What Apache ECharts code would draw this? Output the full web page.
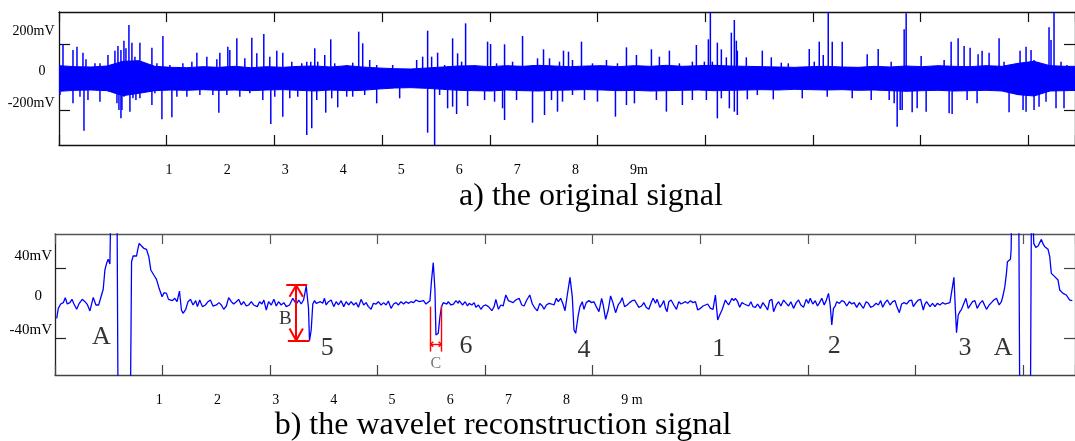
<!DOCTYPE html>
<html>
<head>
<meta charset="utf-8">
<script src="https://cdn.jsdelivr.net/npm/echarts@6/dist/echarts.min.js"></script>
<style>
html,body{margin:0;padding:0;background:#fff}
#main{width:1075px;height:441px}
</style>
</head>
<body>
<div id="main"></div>
<script>
var BLUE = '#0000ff';
var SERIF = '"Liberation Serif", "Times New Roman", serif';

// ---- a) original signal : x in samples, y in mV ----
var topTickStep = 107.8;
var topXLabels = ['1', '2', '3', '4', '5', '6', '7', '8', '9m'];
var topYLabels = ['200mV', '0', '-200mV'];
var topYLabelAt = [274, 38, -156];
var topYTicks = [-200, 200];

// envelope of the dense noise band, one value every 16 samples
var bandStep = 16;
var bandHi = [70, 64, 62, 68, 96, 100, 66, 60, 58, 64, 60, 66, 58, 64, 60, 66, 68, 62, 70, 62,
  56, 52, 50, 56, 62, 68, 70, 64, 70, 66, 72, 68, 64, 68, 70, 64, 70, 66, 72, 66,
  70, 72, 68, 66, 64, 62, 60, 64, 66, 62, 60, 66, 62, 68, 64, 70, 66, 64, 70, 66,
  84, 96, 70, 66, 66];
var bandLo = [-84, -78, -76, -80, -110, -96, -80, -76, -78, -74, -78, -76, -80, -76, -74, -78, -82, -76, -80, -78,
  -70, -64, -62, -66, -72, -78, -80, -82, -76, -80, -82, -78, -76, -74, -76, -80, -78, -82, -80, -78,
  -76, -80, -78, -76, -74, -76, -72, -74, -76, -74, -78, -76, -80, -84, -80, -78, -82, -80, -78, -82,
  -104, -112, -82, -80, -78];

// spikes sticking out of the band: [sample, peak mV]
var upSpikes = [[4,200],[14,164],[18,184],[24,148],[27,108],[36,84],[41,84],[49,134],[56,160],[59,188],[62,164],[65,220],[67,174],[70,314],[73,208],[76,124],[81,208],[84,74],[93,178],[98,84],[104,248],[111,74],[124,84],[133,94],[138,148],[148,124],[158,108],[161,148],[169,184],[171,164],[178,234],[186,114],[193,238],[198,144],[205,260],[211,124],[218,160],[224,148],[233,94],[243,84],[248,94],[252,94],[256,174],[259,94],[266,134],[272,228],[276,84],[288,74],[294,88],[300,274],
  [304,204],[311,104],[318,74],[334,74],[358,104],[364,124],[369,280],[373,124],[379,148],[386,74],[394,234],[399,144],[403,94],[407,324],[416,74],[429,214],[432,200],[438,84],[446,198],[454,94],[464,248],[474,74],[479,114],[485,168],[491,114],[501,94],[505,160],[510,154],[514,104],[523,214],[534,84],[548,104],[559,84],[568,180],[578,134],[593,168],[601,124],[611,160],[621,84],[634,94],[638,194],[646,94],[650,228],[652,394],[654,94],[659,208],
  [663,168],[668,120],[673,268],[676,344],[678,220],[679,160],[688,120],[704,160],[713,120],[723,88],[730,84],[751,170],[756,94],[761,214],[765,134],[770,394],[774,214],[784,214],[809,138],[820,170],[833,94],[846,288],[848,384],[863,128],[886,104],[893,214],[900,234],[906,188],[912,178],[920,138],[924,160],[931,148],[941,234],[946,94],[962,160],[968,184],[973,164],[976,104],[991,300],[993,224],[996,394],[1003,94],[1009,74]];
var downSpikes = [[1,-106],[14,-156],[21,-116],[25,-320],[29,-136],[41,-146],[58,-156],[60,-196],[62,-246],[63,-196],[65,-116],[71,-206],[74,-126],[77,-136],[81,-126],[93,-166],[96,-96],[103,-252],[113,-240],[118,-116],[128,-116],[141,-106],[154,-106],[160,-212],[168,-106],[181,-116],[191,-96],[204,-136],[212,-280],[216,-116],[224,-236],[231,-126],[239,-116],[248,-346],[253,-306],[258,-136],[267,-212],[273,-126],[279,-180],[288,-116],[294,-116],
  [306,-106],[318,-156],[341,-126],[369,-332],[376,-412],[381,-106],[389,-186],[394,-176],[398,-220],[409,-172],[426,-136],[436,-146],[444,-186],[446,-256],[458,-136],[474,-272],[486,-226],[493,-136],[499,-206],[504,-146],[514,-106],[526,-136],[539,-146],[557,-236],[568,-166],[576,-156],[598,-136],[608,-206],[624,-166],[634,-136],[648,-136],[659,-246],
  [663,-126],[671,-186],[676,-206],[679,-226],[689,-132],[699,-106],[715,-132],[744,-126],[769,-116],[794,-126],[813,-136],[831,-136],[836,-156],[839,-296],[842,-196],[844,-196],[854,-210],[859,-186],[868,-206],[891,-216],[894,-220],[909,-136],[919,-156],[951,-210],[965,-196],[968,-206],[976,-196],[981,-176],[988,-146],[998,-186],[1006,-186]];

// ---- b) wavelet reconstruction : x in samples, y in mV ----
var recTickStep = 107.75;
var recXLabels = ['1', '2', '3', '4', '5', '6', '7', '8', '9 m'];
var recYLabels = ['40mV', '0', '-40mV'];
var recYLabelAt = [54, 8.5, -30.7];
var recYTicks = [-40, 40];

var recon = [[1.7,-17.3],[3.3,-5.8],[5.7,-0.8],[8.3,0.8],[10.3,6.5],[12.3,-0.8],[15,0.8],[17,4.6],[19,-0.8],[21.7,-6.9],[24.3,0],[27.3,4.6],[30,1.9],[32.3,-1.2],[35,-8.8],[38.3,6.9],[41,-1.9],[43.7,-1.9],[45.7,5.8],[48.3,16.2],[50,38.5],[51.7,46.2],[53.3,50.8],[55,45.4],[56.5,150],[62,150],[63.5,-200],[75,-200],[76.7,48],[78.3,54.6],[80,55.8],[81.7,54.6],[82.7,60.8],[84.3,69.2],[86.7,66.2],[89,63.5],[91.7,62.3],[94,53.8],[96,38.5],[99,32.7],[101.7,27.7],[104.3,17.3],[107.3,7.7],[109.3,12.3],[111.7,11.5],[113.7,4.6],[115.7,5.8],[117.7,3.1],[120,5.8],[122.3,1.9],[124.7,14.2],[126.7,-7.7],[128.3,-11.5],[131,-6.9],[133.3,1.9],[135.7,4.6],[138.3,-1.9],[141,3.1],[142.7,-3.8],[145,3.8],[147.7,-3.8],[150.7,-1.9],[153.3,1.9],[155.7,3.8],[158.3,-3.1],[161.7,-1.9],[164.3,0.8],[166.7,-1.9],[169,-6.9],[171.7,-3.1],[174,6.5],[176.7,1.9],[179,-0.8],[181.7,1.9],[184,4.6],[186.7,-1.9],[189,1.9],[191.7,-3.1],[194,-1.9],[196.7,1.9],[199,-1.9],
  [200,0],[202.7,-3.8],[205,1.9],[207.3,-0.8],[209.3,3.8],[211.7,-7.7],[214,1.9],[216.7,-1.9],[219.3,4.6],[221.7,-3.1],[224,1.9],[226.7,-1.9],[229.3,0.8],[231.7,-3.8],[235,-1.9],[238.3,5.8],[241.7,-0.8],[244.3,3.8],[246.7,-0.8],[249,3.8],[250,9.6],[251.7,20],[254,-5.8],[255,-43.1],[256.7,-30.8],[258.3,-0.8],[260,3.1],[261.7,0],[263.3,-1.9],[266,1.9],[268.3,0],[270,5.8],[271.7,-1.9],[274,1.9],[276.7,3.8],[279.3,-3.8],[281.7,1.9],[284,-1.9],[286.7,3.1],[289.3,-3.8],[291.7,1.9],[294.3,-1.9],[296.7,1.9],[299.3,-1.9],[301.7,0.8],[304,-4.6],[306.7,4.6],[309.3,-1.9],[311.7,0.8],[314,-3.8],[316.7,-6.9],[319,0],[321.7,-0.8],[324,1.9],[326.7,-1.9],[329.3,0.8],[331.7,-1.9],[334,2.7],[336.7,-5.8],[339.3,-0.8],[341.7,0.8],[344,-1.9],[346.7,1.9],[349.3,-0.8],[351.7,1.9],[354,0],[356.7,1.9],[359.3,0.8],[361.7,3.8],[363.3,5.8],[365,1.9],[366.7,0.8],[369.3,3.1],[371.7,-0.8],[373.3,0.8],[375.7,3.1],[377.3,26.9],[379,46.9],[380.7,15.4],[381.7,-36.5],[384,-34.6],[385.7,-15.4],[387.3,-3.8],[389,0.8],[390.7,1.9],[392.7,-0.8],[394,1.9],[396.7,-1.9],[399.3,-0.8],[401.7,3.1],[404,0],
  [405,3.1],[406.7,4.6],[408.3,-1.9],[411,1.9],[413.3,-3.1],[415,0],[417.7,-1.9],[420,0.8],[421.7,-4.6],[424.3,-1.9],[426.7,-6.9],[429,-3.1],[431.7,-1.9],[434.3,-3.8],[437.7,-8.5],[440,-3.8],[441.7,4.6],[444.3,-6.9],[446.7,-1.9],[449,-3.1],[451.7,9.6],[454.3,3.1],[456.7,1.9],[459,0.8],[461.7,3.8],[465,5.8],[467.7,-1.9],[470,-3.1],[472.7,3.8],[475.7,9.6],[478.3,-0.8],[481,-5.8],[483.3,-8.5],[485.7,0],[488.3,-3.1],[490,-6.9],[492.3,-1.9],[495,0],[497.7,-0.8],[500,-1.9],[502.3,5.8],[504.3,1.9],[506.7,5.8],[509,-0.8],[511,-8.5],[513.3,9.6],[516,30],[518.3,7.7],[520,-30.8],[521.7,-34.6],[523.3,-34.6],[524.3,-13.5],[526,-3.8],[528.3,1.9],[530,-6.9],[532.3,0.8],[535,3.1],[537.7,0.8],[540,1.9],[542.3,-3.8],[545,-9.6],[547.7,5.8],[549.3,-1.9],[551.7,-18.5],[554.3,-7.7],[556.7,8.5],[559,0.8],[561.7,-10.8],[564.3,-1.9],[566.7,1.9],[568.3,6.5],[570.7,-3.8],[573.3,-1.9],[575.7,0.8],[578.3,3.1],[580.7,3.8],[582.7,1.9],[585,-4.6],[587.7,-3.1],[590,0.8],[592.3,-4.6],[595,-6.9],[597.7,1.9],[599.3,5.8],[601.7,0],[603.3,4.6],[606,-4.6],[608.3,-0.8],
  [610,3.1],[611.7,-5.8],[613.3,-9.6],[615,1.9],[617.3,3.8],[620,-1.9],[622.7,-6.9],[625,1.9],[627.3,-0.8],[629.3,-0.8],[631.7,1.9],[634,0],[636.7,3.1],[639.3,0.8],[641.7,1.9],[644,-7.7],[646.7,-5.8],[649.3,-3.1],[651.7,-1.9],[654,-0.8],[656.7,-5.8],[659.3,-6.9],[661.7,9.6],[664,-19.2],[666,-13.5],[668.3,-7.7],[670,-1.9],[671.7,3.8],[673.3,0.8],[675,-1.9],[676.7,-3.8],[678.3,5.8],[680,3.1],[681.7,5.8],[684,1.9],[686,-4.6],[688.3,0.8],[690.7,-0.8],[692.7,-1.9],[695,-3.1],[697.3,1.9],[699.3,-3.8],[701.7,-4.6],[704,-0.8],[706.7,-5.8],[709.3,0.8],[711.7,-3.1],[714,-7.7],[716,3.1],[718.3,4.6],[720,-9.6],[722.7,-1.9],[725,1.9],[727.3,-3.1],[730,3.8],[732.7,0],[735,-3.1],[737.3,1.9],[740,-5.8],[742.7,0.8],[745,3.8],[747.3,-1.9],[750,-4.6],[752.7,4.6],[755,0],[756.7,5.8],[759.3,-0.8],[761.7,3.1],[764,-3.1],[766,0.8],[768.3,5.8],[770.7,-1.9],[772.7,3.1],[775,11.5],[776.7,-1.9],[778.3,-25],[780,-5.8],[781.7,-3.1],[783.3,1.9],[786,0],[788.3,3.1],[790.7,1.9],[793.3,-3.1],[796,1.9],[798.3,-0.8],[800.7,0.8],[803.3,-4.6],[806,0.8],[808.3,-3.1],
  [810,-5.8],[812.7,1.9],[815,0],[817.3,-4.6],[820,-3.1],[822.7,0],[825,-1.9],[827.3,3.1],[829.3,-4.6],[831.7,0.8],[834,3.8],[836.7,-1.9],[839.3,1.9],[841.7,3.1],[843.3,-3.1],[846,-10.8],[848.3,-0.8],[850.7,0.8],[853.3,-0.8],[856,3.1],[858.3,3.8],[860,-3.8],[862.7,0.8],[865,3.8],[867.3,4.6],[870,-7.7],[871.7,-0.8],[873.3,1.9],[875,3.1],[876.7,-3.8],[879.3,0],[881.7,-3.8],[884,0],[886.7,-1.9],[889.3,0.8],[891.7,-0.8],[894,0],[896.7,0.8],[898.3,1.9],[900.7,30],[902,-3.8],[903.3,-33.8],[905,-13.5],[906.7,-9.6],[908.3,-6.9],[910,-1.9],[912.7,5.8],[915,-5.8],[916.7,-7.7],[919.3,1.9],[921.7,3.1],[924,-5.8],[926.7,0],[929.3,3.1],[930.7,4.6],[933.3,-6.9],[936,-1.9],[938.3,0.8],[940.7,3.8],[943.3,5.8],[946,-1.9],[948.3,1.9],[950,9.6],[951.7,19.2],[953.3,34.6],[954.3,48.1],[956,46.9],[957.3,50.8],[958,61.5],[959,150],[965.5,150],[967,-200],[977,-200],[978.5,150],[980.7,69.2],[982.7,64.6],[985,66.2],[986.7,64.6],[988.3,73.8],[990,68.5],[991.7,65.4],[993.3,67.3],[995,62.3],[996.7,53.8],[998.3,34.6],[1000,32.7],[1001.7,30.8],[1003.3,31.5],[1005,26.9],[1006.7,15.4],[1008.3,13.5],[1010,11.5],[1011.7,13.5],[1013.3,9.6],[1015,10.8],[1016.7,3.8],[1019.3,3.1]];

// annotations on panel b
var noteText = ['A', 'B', '5', 'C', '6', '4', '1', '2', '3', 'A'];
var noteAt = [[46.5,-38.5],[230.7,-18.4],[272.7,-51.8],[381.7,-69.2],[411.7,-50],[530,-53.8],[665,-53],[780.7,-50],[911.7,-51.8],[950,-51.8]];
// red measuring marks [x1, y1, x2, y2]
var markB = [[241.7,21,241.7,-43],[231.7,21,252.7,21],[233.3,-43,255,-43],
  [241.7,21,235,7.5],[241.7,21,248.4,7.5],[241.7,-43,235,-29],[241.7,-43,248.4,-29]];
var markC = [[376,-3.8,376,-55.7],[387.3,-3,387.3,-55.7],[376,-47.2,387.3,-47.2],
  [376,-47.2,379,-44.5],[376,-47.2,379,-49.9],[387.3,-47.2,384.3,-44.5],[387.3,-47.2,384.3,-49.9]];

function frameX(grid, pos, max, step, color) {
  return {
    type: 'value', gridIndex: grid, position: pos, min: 0, max: max, interval: step,
    axisLine: {show: true, onZero: false, lineStyle: {color: color, width: 1.3}},
    axisTick: {show: true, inside: true, length: 10, lineStyle: {color: color, width: 1.2}},
    axisLabel: {show: false}, splitLine: {show: false}
  };
}
function frameY(grid, pos, min, max, ticks, color) {
  return {
    type: 'value', gridIndex: grid, position: pos, min: min, max: max,
    axisLine: {show: true, onZero: false, lineStyle: {color: color, width: 1.3}},
    axisTick: {show: true, inside: true, length: 11, customValues: ticks, lineStyle: {color: color, width: 1.2}},
    axisLabel: {show: false}, splitLine: {show: false}
  };
}
function labelX(grid, min, max, labels, margin) {
  return {
    type: 'value', gridIndex: grid, position: 'bottom', min: min, max: max,
    axisLine: {show: false}, axisTick: {show: false}, splitLine: {show: false},
    axisLabel: {
      customValues: labels.map(function (t, i) { return i + 1; }),
      formatter: function (v) { return labels[Math.round(v) - 1]; },
      align: 'left', margin: margin, fontFamily: SERIF, fontSize: 14, color: '#000'
    }
  };
}
function labelY(grid, min, max, labels, at, margin, size, zeroPad) {
  return {
    type: 'value', gridIndex: grid, position: 'left', min: min, max: max,
    axisLine: {show: false}, axisTick: {show: false}, splitLine: {show: false},
    axisLabel: {
      customValues: at, margin: margin, fontFamily: SERIF, fontSize: size, color: '#000',
      formatter: function (v) {
        var t = '';
        at.forEach(function (a, i) { if (Math.abs(a - v) < 1e-6) t = labels[i]; });
        return t === '0' ? '{z|0}' : t;
      },
      rich: {z: {padding: [0, zeroPad, 0, 0], fontFamily: SERIF, fontSize: size, color: '#000'}}
    }
  };
}
function segs(list, width) {
  return list.map(function (s) {
    return [{coord: [s[0], s[1]], lineStyle: {color: '#ff0000', width: width, type: 'solid'}},
            {coord: [s[2], s[3]]}];
  });
}

var myChart = echarts.init(document.getElementById('main'), null, {renderer: 'canvas'});
var option = {
  animation: false,
  backgroundColor: '#fff',
  title: [
    {text: 'a) the original signal', left: 591, top: 181, textAlign: 'center', padding: 0,
     textStyle: {fontFamily: SERIF, fontSize: 32, fontWeight: 'normal', color: '#000'}},
    {text: 'b) the wavelet reconstruction signal', left: 503, top: 410, textAlign: 'center', padding: 0,
     textStyle: {fontFamily: SERIF, fontSize: 32, fontWeight: 'normal', color: '#000'}}
  ],
  grid: [
    {left: 59, top: 12, width: 1017, height: 133},
    {left: 55, top: 234, width: 1022, height: 141}
  ],
  xAxis: [
    frameX(0, 'bottom', 1017, topTickStep, '#111'),
    frameX(0, 'top', 1017, topTickStep, '#111'),
    labelX(0, -0.8365, 16.668, topXLabels, 18),
    frameX(1, 'bottom', 1022, recTickStep, '#444'),
    frameX(1, 'top', 1022, recTickStep, '#555'),
    labelX(1, -0.7324, 16.797, recXLabels, 18)
  ],
  yAxis: [
    frameY(0, 'left', -406, 392, topYTicks, '#111'),
    frameY(0, 'right', -406, 392, topYTicks, '#111'),
    labelY(0, -406, 392, topYLabels, topYLabelAt, 4.5, 14, 9),
    frameY(1, 'left', -82.7, 80, recYTicks, '#222'),
    frameY(1, 'right', -82.7, 80, recYTicks, '#444'),
    labelY(1, -82.7, 80, recYLabels, recYLabelAt, 3, 15, 10)
  ],
  series: [
    {
      // the dense noise band as one filled polygon
      type: 'custom', xAxisIndex: 0, yAxisIndex: 0, silent: true, clip: true, z: 2,
      data: [[0, 0]],
      renderItem: function (params, api) {
        var pts = [];
        bandHi.forEach(function (v, i) { pts.push(api.coord([i * bandStep, v])); });
        for (var i = bandLo.length - 1; i >= 0; i--) pts.push(api.coord([i * bandStep, bandLo[i]]));
        return {type: 'polygon', shape: {points: pts},
                style: {fill: BLUE, stroke: BLUE, lineWidth: 1}};
      }
    },
    {
      type: 'custom', xAxisIndex: 0, yAxisIndex: 0, silent: true, clip: true, z: 3,
      data: upSpikes.concat(downSpikes),
      renderItem: function (params, api) {
        var x = api.value(0);
        var a = api.coord([x, 0]);
        var b = api.coord([x, api.value(1)]);
        return {type: 'line', shape: {x1: a[0], y1: a[1], x2: b[0], y2: b[1]},
                style: {stroke: BLUE, lineWidth: 1.5}};
      }
    },
    {
      type: 'line', xAxisIndex: 3, yAxisIndex: 3, silent: true, symbol: 'none', clip: true,
      data: recon, lineStyle: {color: BLUE, width: 1.3}, z: 3,
      markLine: {
        silent: true, symbol: ['none', 'none'], animation: false, label: {show: false},
        emphasis: {disabled: true},
        data: segs(markB, 2).concat(segs(markC, 1.4))
      }
    },
    {
      type: 'scatter', xAxisIndex: 3, yAxisIndex: 3, silent: true, symbolSize: 1,
      itemStyle: {color: 'transparent'}, z: 5,
      data: noteText.map(function (t, i) {
        return {
          value: noteAt[i],
          label: {
            show: true, position: 'inside', formatter: t, fontFamily: SERIF,
            fontSize: t === 'B' ? 19 : (t === 'C' ? 16 : 26),
            color: t === 'C' ? '#555' : '#000'
          }
        };
      })
    }
  ]
};
myChart.setOption(option);
window.addEventListener('resize', function () { myChart.resize(); });
</script>
</body>
</html>
